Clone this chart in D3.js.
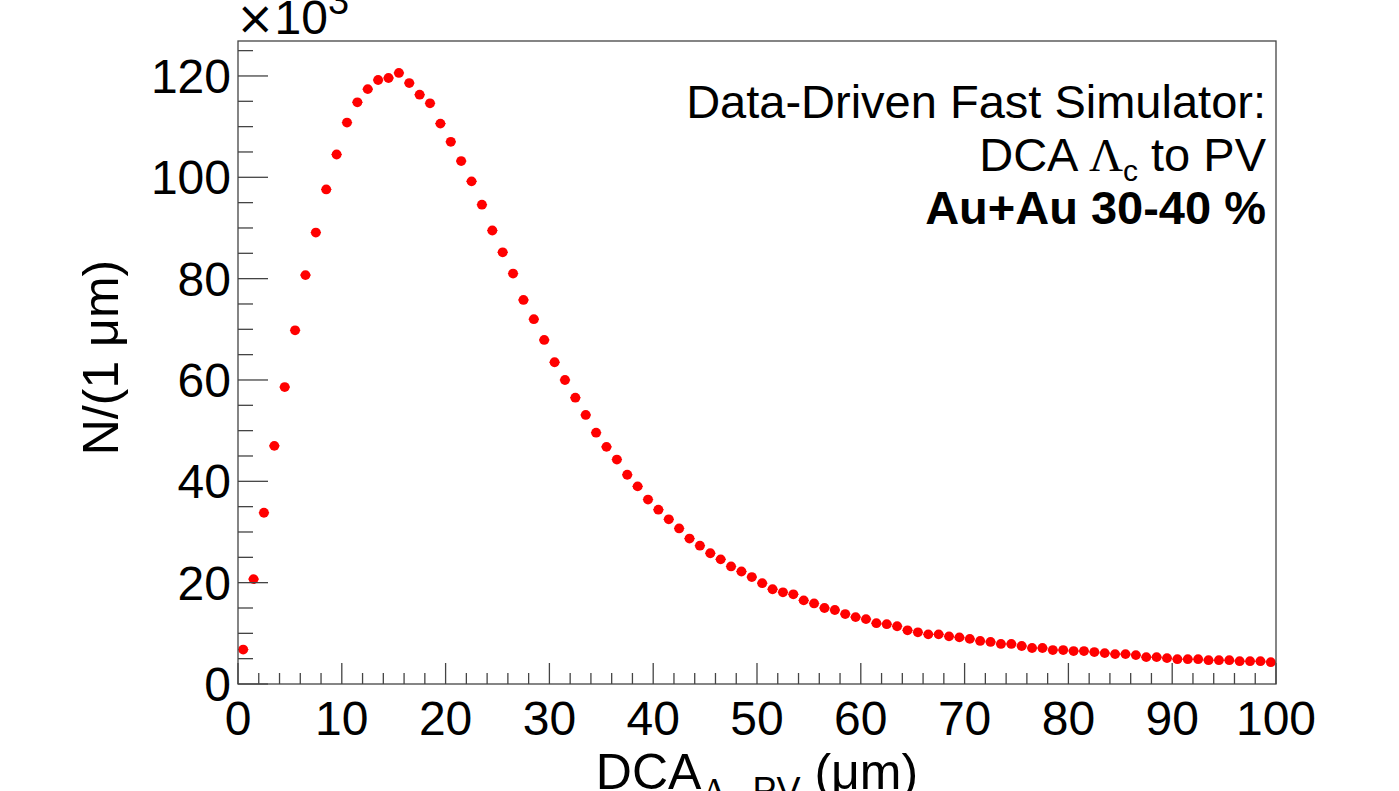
<!DOCTYPE html>
<html>
<head>
<meta charset="utf-8">
<script src="https://cdn.jsdelivr.net/npm/d3@7"></script>
<style>
  html, body { margin: 0; padding: 0; background: #fff; overflow: hidden; }
  svg { display: block; }
  text { font-family: "Liberation Sans", Arial, Helvetica, sans-serif; fill: #000; }
</style>
</head>
<body>
<svg id="chart" width="1399" height="791"></svg>
<script>
// ---- data (counts in units of 10^3 per 1 µm bin) ----
const binCenters = [
  0.5, 1.5, 2.5, 3.5, 4.5, 5.5, 6.5, 7.5, 8.5, 9.5,
  10.5, 11.5, 12.5, 13.5, 14.5, 15.5, 16.5, 17.5, 18.5, 19.5,
  20.5, 21.5, 22.5, 23.5, 24.5, 25.5, 26.5, 27.5, 28.5, 29.5,
  30.5, 31.5, 32.5, 33.5, 34.5, 35.5, 36.5, 37.5, 38.5, 39.5,
  40.5, 41.5, 42.5, 43.5, 44.5, 45.5, 46.5, 47.5, 48.5, 49.5,
  50.5, 51.5, 52.5, 53.5, 54.5, 55.5, 56.5, 57.5, 58.5, 59.5,
  60.5, 61.5, 62.5, 63.5, 64.5, 65.5, 66.5, 67.5, 68.5, 69.5,
  70.5, 71.5, 72.5, 73.5, 74.5, 75.5, 76.5, 77.5, 78.5, 79.5,
  80.5, 81.5, 82.5, 83.5, 84.5, 85.5, 86.5, 87.5, 88.5, 89.5,
  90.5, 91.5, 92.5, 93.5, 94.5, 95.5, 96.5, 97.5, 98.5, 99.5
];
const counts = [
  6.8, 20.7, 33.8, 47.0, 58.6, 69.8, 80.7, 89.1, 97.6, 104.5,
  110.8, 114.8, 117.4, 119.2, 119.6, 120.6, 118.6, 116.3, 114.6, 110.6,
  107.0, 103.2, 99.2, 94.6, 89.5, 85.2, 81.0, 75.8, 72.0, 67.9,
  63.5, 60.0, 56.5, 53.1, 49.6, 46.8, 44.3, 41.3, 39.0, 36.4,
  34.4, 32.5, 30.7, 28.7, 27.3, 25.8, 24.6, 23.2, 22.2, 21.1,
  19.9, 18.7, 18.1, 17.7, 16.5, 15.9, 15.0, 14.6, 13.8, 13.2,
  12.8, 12.0, 11.8, 11.4, 10.6, 10.2, 9.8, 9.8, 9.4, 9.2,
  8.9, 8.5, 8.3, 7.9, 7.9, 7.5, 7.1, 7.1, 6.7, 6.7,
  6.5, 6.5, 6.3, 6.1, 5.9, 5.9, 5.7, 5.3, 5.3, 5.1,
  4.9, 4.9, 4.9, 4.7, 4.7, 4.7, 4.5, 4.5, 4.5, 4.3
];
const binHalfWidth = 0.5;
const xTicksMajor = [0, 10, 20, 30, 40, 50, 60, 70, 80, 90, 100];
const yTicksMajor = [0, 20, 40, 60, 80, 100, 120];
const xDomain = [0, 100];
const yDomain = [0, 126.9];
const textLines = ["Data-Driven Fast Simulator:", "DCA ", " to PV", "Au+Au 30-40 %"];

// ---- layout ----
const frame = { left: 238, right: 1276, top: 41, bottom: 684 };
const svg = d3.select("#chart");
const x = d3.scaleLinear().domain(xDomain).range([frame.left, frame.right]);
const y = d3.scaleLinear().domain(yDomain).range([frame.bottom, frame.top]);
const axisColor = "#444";

// data points first (frame on top)
const pts = svg.append("g");
const data = binCenters.map((c, i) => ({ c, v: counts[i] }));
pts.selectAll("line.err").data(data).enter().append("line")
  .attr("x1", d => x(d.c - binHalfWidth)).attr("x2", d => x(d.c + binHalfWidth))
  .attr("y1", d => y(d.v)).attr("y2", d => y(d.v))
  .attr("stroke", "#ff0000").attr("stroke-width", 1.2);
pts.selectAll("circle").data(data).enter().append("circle")
  .attr("cx", d => x(d.c)).attr("cy", d => y(d.v)).attr("r", 4.9)
  .attr("fill", "#ff0000");

// frame
svg.append("rect")
  .attr("x", frame.left).attr("y", frame.top)
  .attr("width", frame.right - frame.left).attr("height", frame.bottom - frame.top)
  .attr("fill", "none").attr("stroke", axisColor).attr("stroke-width", 1.3);

// x axis ticks
const xMinor = d3.range(0, 101, 2).filter(v => v % 10 !== 0);
const gx = svg.append("g");
gx.selectAll("line.maj").data(xTicksMajor).enter().append("line")
  .attr("x1", d => x(d)).attr("x2", d => x(d))
  .attr("y1", frame.bottom).attr("y2", frame.bottom - 21)
  .attr("stroke", axisColor).attr("stroke-width", 1.3);
gx.selectAll("line.min").data(xMinor).enter().append("line")
  .attr("x1", d => x(d)).attr("x2", d => x(d))
  .attr("y1", frame.bottom).attr("y2", frame.bottom - 11)
  .attr("stroke", axisColor).attr("stroke-width", 1.3);
gx.selectAll("text").data(xTicksMajor).enter().append("text")
  .attr("x", d => x(d)).attr("y", 735)
  .attr("text-anchor", "middle").attr("font-size", 48)
  .text(d => d);

// y axis ticks
const yMinor = d3.range(0, 126, 5).filter(v => v % 20 !== 0);
const gy = svg.append("g");
gy.selectAll("line.maj").data(yTicksMajor).enter().append("line")
  .attr("x1", frame.left).attr("x2", frame.left + 30)
  .attr("y1", d => y(d)).attr("y2", d => y(d))
  .attr("stroke", axisColor).attr("stroke-width", 1.3);
gy.selectAll("line.min").data(yMinor).enter().append("line")
  .attr("x1", frame.left).attr("x2", frame.left + 15)
  .attr("y1", d => y(d)).attr("y2", d => y(d))
  .attr("stroke", axisColor).attr("stroke-width", 1.3);
gy.selectAll("text").data(yTicksMajor).enter().append("text")
  .attr("x", 231).attr("y", d => y(d) + 17)
  .attr("text-anchor", "end").attr("font-size", 48)
  .text(d => d);

// ×10^3
const mult = svg.append("text").attr("x", 236).attr("y", 34).attr("font-size", 48);
mult.append("tspan").attr("font-family", "DejaVu Sans, sans-serif").attr("font-size", 46).text("\u00d7");
mult.append("tspan").text("10");
mult.append("tspan").attr("dy", -20).attr("font-size", 38).text("3");

// x title
const xt = svg.append("text").attr("x", (frame.left + frame.right) / 2).attr("y", 789)
  .attr("text-anchor", "middle").attr("font-size", 50);
xt.append("tspan").text("DCA");
xt.append("tspan").attr("dy", 14).attr("font-size", 36).attr("font-family", "Liberation Serif, serif").text("\u039b");
xt.append("tspan").attr("dy", 6).attr("font-size", 26).text("c");
xt.append("tspan").attr("dy", -6).attr("font-size", 36).text("-PV");
xt.append("tspan").attr("dy", -14).text(" (\u03bcm)");

// y title
svg.append("text")
  .attr("transform", `translate(118, ${(frame.top + frame.bottom) / 2 - 5}) rotate(-90)`)
  .attr("text-anchor", "middle").attr("font-size", 50)
  .text("N/(1 \u03bcm)");

// annotation
svg.append("text").attr("x", 1266).attr("y", 118).attr("text-anchor", "end")
  .attr("font-size", 47).text(textLines[0]);
const l2 = svg.append("text").attr("x", 1266).attr("y", 171).attr("text-anchor", "end")
  .attr("font-size", 47);
l2.append("tspan").text(textLines[1]);
l2.append("tspan").attr("font-family", "Liberation Serif, serif").text("\u039b");
l2.append("tspan").attr("dy", 10).attr("font-size", 30).text("c");
l2.append("tspan").attr("dy", -10).text(textLines[2]);
svg.append("text").attr("x", 1266).attr("y", 224).attr("text-anchor", "end")
  .attr("font-size", 47).attr("font-weight", "bold").text(textLines[3]);
</script>
</body>
</html>
